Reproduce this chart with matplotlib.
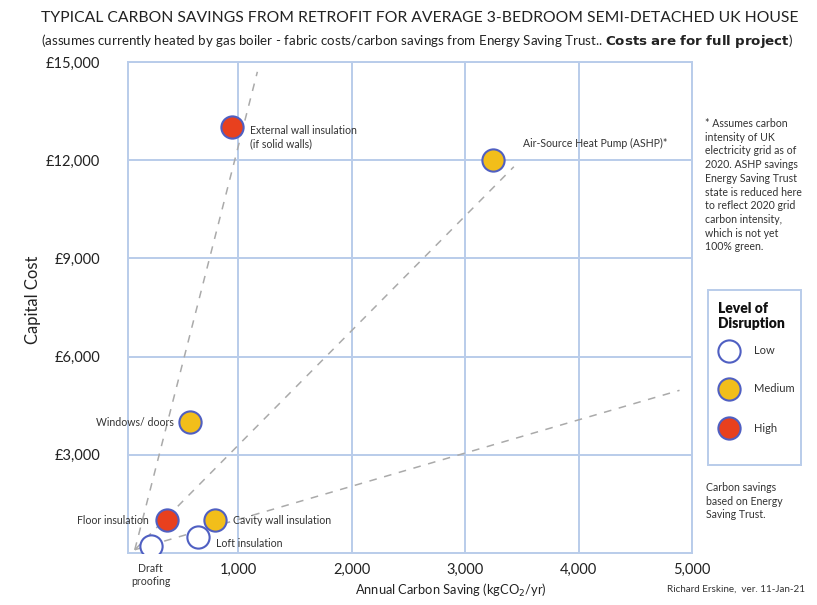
import matplotlib
matplotlib.use("Agg")
import matplotlib.pyplot as plt
from matplotlib.lines import Line2D
from matplotlib.patches import Rectangle

plt.rcParams['font.family'] = ['Lato', 'DejaVu Sans']

# ---- data ----
measures = ["Draft\nproofing", "Loft insulation", "Cavity wall insulation", "Floor insulation",
            "Windows/ doors", "External wall insulation\n(if solid walls)", "Air-Source Heat Pump (ASHP)*"]
carbon_saving = [230, 650, 800, 370, 580, 950, 3250]
capital_cost = [200, 500, 1000, 1000, 4000, 13000, 12000]
disruption = ["Low", "Low", "Medium", "High", "Medium", "High", "Medium"]

disruption_levels = ["Low", "Medium", "High"]
fill_colors = {"Low": "white", "Medium": "#F2BE1A", "High": "#E8401E"}
edge_color = "#4F5FC2"

# guide (dashed) lines: start and end points
guide_x0 = [90, 90, 90]
guide_y0 = [100, 100, 100]
guide_x1 = [1170, 3430, 4890]
guide_y1 = [14700, 11800, 4970]

x_ticks = [1000, 2000, 3000, 4000, 5000]
x_tick_labels = ["1,000", "2,000", "3,000", "4,000", "5,000"]
y_ticks = [3000, 6000, 9000, 12000, 15000]
y_tick_labels = ["£3,000", "£6,000", "£9,000", "£12,000", "£15,000"]

# ---- figure ----
fig = plt.figure(figsize=(8.17, 6.05), dpi=100)
ax = fig.add_axes([128/817, 1-553/605, (692-128)/817, (553-62)/605])
ax.set_xlim(30, 5000)
ax.set_ylim(0, 15000)

grid_c = "#B9CCEA"
ax.set_xticks(x_ticks)
ax.set_xticklabels(x_tick_labels, fontsize=10.5, color="#222222")
ax.set_yticks(y_ticks)
ax.set_yticklabels(y_tick_labels, fontsize=10.5, color="#222222")
ax.tick_params(length=0)
ax.tick_params(axis='x', pad=7)
ax.tick_params(axis='y', pad=20)
ax.grid(True, color=grid_c, linewidth=1.4)
ax.set_axisbelow(True)
for s in ax.spines.values():
    s.set_color(grid_c)
    s.set_linewidth(1.4)

fig.text(451/817, 1-590/605, "Annual Carbon Saving (kgCO$_2$/yr)", ha='center', va='center',
         fontsize=9.3, color="#222222")
fig.text(33/817, 1-300/605, "Capital Cost", ha='center', va='center', rotation=90,
         fontsize=12, color="#222222")

for x0, y0, x1, y1 in zip(guide_x0, guide_y0, guide_x1, guide_y1):
    ax.plot([x0, x1], [y0, y1], linestyle=(0, (5, 5)), color="#AAAAAA", linewidth=1.1, zorder=2)

for x, y, d in zip(carbon_saving, capital_cost, disruption):
    ax.plot([x], [y], marker='o', markersize=16, markerfacecolor=fill_colors[d],
            markeredgecolor=edge_color, markeredgewidth=1.5, linestyle='none', zorder=5)

lab_kw = dict(fontsize=7.6, color="#333333", zorder=6)
# label placements (offsets in points)
offsets = [(0, -12, 'center', 'top'), (13, -5, 'left', 'center'), (13, 0, 'left', 'center'),
           (-13, 0, 'right', 'center'), (-12, 0, 'right', 'center'), (13, -7, 'left', 'center'),
           (21, 12, 'left', 'center')]
for name, x, y, (dx, dy, ha, va) in zip(measures, carbon_saving, capital_cost, offsets):
    ax.annotate(name, (x, y), xytext=(dx, dy), textcoords='offset points', ha=ha, va=va,
                linespacing=1.25, **lab_kw)

# titles
fig.text(420/817, 1-18/605, "TYPICAL CARBON SAVINGS FROM RETROFIT FOR AVERAGE 3-BEDROOM SEMI-DETACHED UK HOUSE",
         ha='center', va='center', fontsize=11.35, color="#222222")
fig.text(417/817, 1-41/605,
         "(assumes currently heated by gas boiler - fabric costs/carbon savings from Energy Saving Trust.. "
         r"$\bf{Costs\ are\ for\ full\ project}$)",
         ha='center', va='center', fontsize=9.6, color="#222222")

# notes
fig.text(705/817, 1-118/605,
         "* Assumes carbon\nintensity of UK\nelectricity grid as of\n2020. ASHP savings\nEnergy Saving Trust\n"
         "state is reduced here\nto reflect 2020 grid\ncarbon intensity,\nwhich is not yet\n100% green.",
         ha='left', va='top', fontsize=7.6, color="#333333", linespacing=1.3)
fig.text(706/817, 1-482/605, "Carbon savings\nbased on Energy\nSaving Trust.",
         ha='left', va='top', fontsize=7.6, color="#333333", linespacing=1.3)
fig.text(805/817, 1-589/605, "Richard Erskine,  ver. 11-Jan-21",
         ha='right', va='center', fontsize=7.1, color="#333333")

# legend box
fig.patches.append(Rectangle((708/817, 1-465/605), 93/817, 175/605, transform=fig.transFigure,
                             facecolor='white', edgecolor=grid_c, linewidth=1.4))
fig.text(718/817, 1-316/605, "Level of\nDisruption", ha='left', va='center', fontsize=10,
         fontweight='heavy', color="#111111", linespacing=1.15)
leg_y = [351, 389, 428]
for lvl, yy in zip(disruption_levels, leg_y):
    fig.add_artist(Line2D([729/817], [1-yy/605], marker='o', markersize=16,
                          markerfacecolor=fill_colors[lvl], markeredgecolor=edge_color,
                          markeredgewidth=1.5, linestyle='none', transform=fig.transFigure))
    fig.text(754/817, 1-yy/605, lvl, ha='left', va='center', fontsize=8, color="#333333")

fig.savefig("out.png", dpi=100, facecolor='white')
